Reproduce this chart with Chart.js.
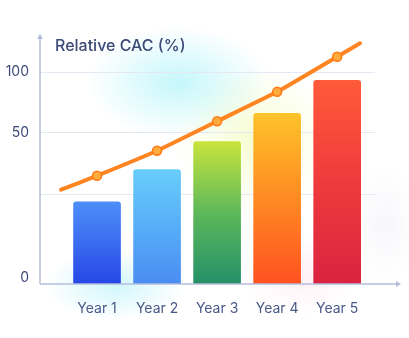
<!DOCTYPE html>
<html>
<head>
<meta charset="utf-8">
<script src="https://cdn.jsdelivr.net/npm/chart.js@4"></script>
<style>
  html, body { margin: 0; padding: 0; }
  body {
    width: 409px; height: 338px; overflow: hidden;
    background:
      radial-gradient(ellipse 90px 55px at 178px 82px, rgba(178,244,250,0.75), rgba(178,244,250,0) 100%),
      radial-gradient(ellipse 80px 75px at 255px 140px, rgba(244,252,195,0.75), rgba(244,252,195,0) 100%),
      radial-gradient(ellipse 70px 35px at 115px 285px, rgba(170,240,250,0.55), rgba(170,240,250,0) 100%),
      radial-gradient(ellipse 60px 40px at 300px 275px, rgba(255,228,235,0.55), rgba(255,228,235,0) 100%),
      radial-gradient(ellipse 35px 60px at 385px 225px, rgba(230,230,242,0.3), rgba(230,230,242,0) 100%),
      #ffffff;
  }
  #wrap { position: relative; width: 409px; height: 338px; }
</style>
</head>
<body>
<div id="wrap"><canvas id="chart" width="409" height="338"></canvas></div>
<script>
// data
const years = ['Year 1', 'Year 2', 'Year 3', 'Year 4', 'Year 5'];
const barValues = [38.8, 54.0, 67.2, 80.5, 96.1];
// trend line: runs a little past the first and last bar
const lineX = [-0.6, 0, 1, 2, 3, 4, 4.38];
const lineValues = [44.5, 51.1, 62.9, 76.8, 90.7, 107.3, 113.6];
// gridlines as drawn in the picture, and their labels
// (the "0" label sits a little above the axis line in the picture)
const yTickValues = [2.8, 42.1, 71.5, 100];
const yTickLabels = ['0', '', '50', '100'];

const barColors = [
    ['#4d8ef7', '#3a6cf0', '#2646e6'],
    ['#68cdfb', '#57aef8', '#4a8cf2'],
    ['#c8e43c', '#5db85a', '#249068'],
    ['#ffc32a', '#ff8a22', '#ff5120'],
    ['#ff5a3a', '#ef3a3c', '#d92340']
];

function barGradient(context) {
    const chart = context.chart;
    const area = chart.chartArea;
    if (!area || context.type !== 'data') return barColors[0][0];
    const i = context.dataIndex;
    const top = chart.scales.y.getPixelForValue(barValues[i]);
    const g = chart.ctx.createLinearGradient(0, top, 0, area.bottom);
    g.addColorStop(0, barColors[i][0]);
    g.addColorStop(0.5, barColors[i][1]);
    g.addColorStop(1, barColors[i][2]);
    return g;
}

const axisColor = '#b4bedb';
const textColor = '#3c4a78';

const decorations = {
    id: 'decorations',
    afterDraw(chart) {
        const ctx = chart.ctx;
        const a = chart.chartArea;
        ctx.save();
        ctx.strokeStyle = axisColor;
        ctx.fillStyle = axisColor;
        ctx.lineWidth = 1.5;
        // y axis
        ctx.beginPath();
        ctx.moveTo(a.left, a.bottom);
        ctx.lineTo(a.left, a.top + 2);
        ctx.stroke();
        ctx.beginPath();
        ctx.moveTo(a.left, a.top);
        ctx.lineTo(a.left - 3, a.top + 5);
        ctx.lineTo(a.left + 3, a.top + 5);
        ctx.closePath();
        ctx.fill();
        // x axis
        const xEnd = 401;
        ctx.beginPath();
        ctx.moveTo(a.left, a.bottom);
        ctx.lineTo(xEnd - 2, a.bottom);
        ctx.stroke();
        ctx.beginPath();
        ctx.moveTo(xEnd, a.bottom);
        ctx.lineTo(xEnd - 5, a.bottom - 3);
        ctx.lineTo(xEnd - 5, a.bottom + 3);
        ctx.closePath();
        ctx.fill();
        // title
        ctx.fillStyle = textColor;
        ctx.font = '500 16px Inter, "Noto Sans", sans-serif';
        ctx.textBaseline = 'middle';
        ctx.textAlign = 'left';
        ctx.fillText('Relative CAC (%)', 55, 46);
        ctx.restore();
    }
};

new Chart(document.getElementById('chart'), {
    data: {
        datasets: [
            {
                type: 'line',
                data: lineX.map((x, i) => ({ x: x, y: lineValues[i] })),
                borderColor: '#ff8522',
                borderWidth: 4,
                tension: 0.15,
                borderCapStyle: 'round',
                pointRadius: lineX.map((x, i) => (i === 0 || i === lineX.length - 1) ? 0 : 4.5),
                pointBackgroundColor: '#ffab3d',
                pointBorderColor: '#ff7a15',
                pointBorderWidth: 1.5,
                order: 0
            },
            {
                type: 'bar',
                data: years.map((y, i) => ({ x: i, y: barValues[i] })),
                backgroundColor: barGradient,
                barThickness: 47,
                borderRadius: { topLeft: 3, topRight: 3 },
                borderSkipped: 'bottom',
                order: 1
            }
        ]
    },
    options: {
        responsive: false,
        animation: false,
        layout: { padding: { top: 34, right: 34, bottom: 0, left: 0 } },
        plugins: {
            legend: { display: false },
            tooltip: { enabled: false }
        },
        scales: {
            x: {
                type: 'linear',
                offset: false,
                min: -0.95,
                max: 4.63,
                afterBuildTicks: s => { s.ticks = years.map((y, i) => ({ value: i })); },
                afterFit: s => { s.height = 54; },
                grid: { display: false, drawTicks: false, offset: false },
                border: { display: false },
                ticks: {
                    autoSkip: false,
                    padding: 16,
                    color: '#4a5987',
                    font: { family: 'Inter, "Noto Sans", sans-serif', size: 14 },
                    callback: v => years[v]
                }
            },
            y: {
                min: 0,
                max: 118,
                afterBuildTicks: s => { s.ticks = yTickValues.map(v => ({ value: v })); },
                afterFit: s => { s.width = 40; },
                grid: {
                    drawTicks: false,
                    color: c => (c.index === 0) ? 'rgba(0,0,0,0)' : '#e3e8f3',
                    lineWidth: 1
                },
                border: { display: false },
                ticks: {
                    padding: 11,
                    color: textColor,
                    font: { family: 'Inter, "Noto Sans", sans-serif', size: 14 },
                    callback: (v, i) => yTickLabels[i]
                }
            }
        }
    },
    plugins: [decorations]
});
</script>
</body>
</html>
